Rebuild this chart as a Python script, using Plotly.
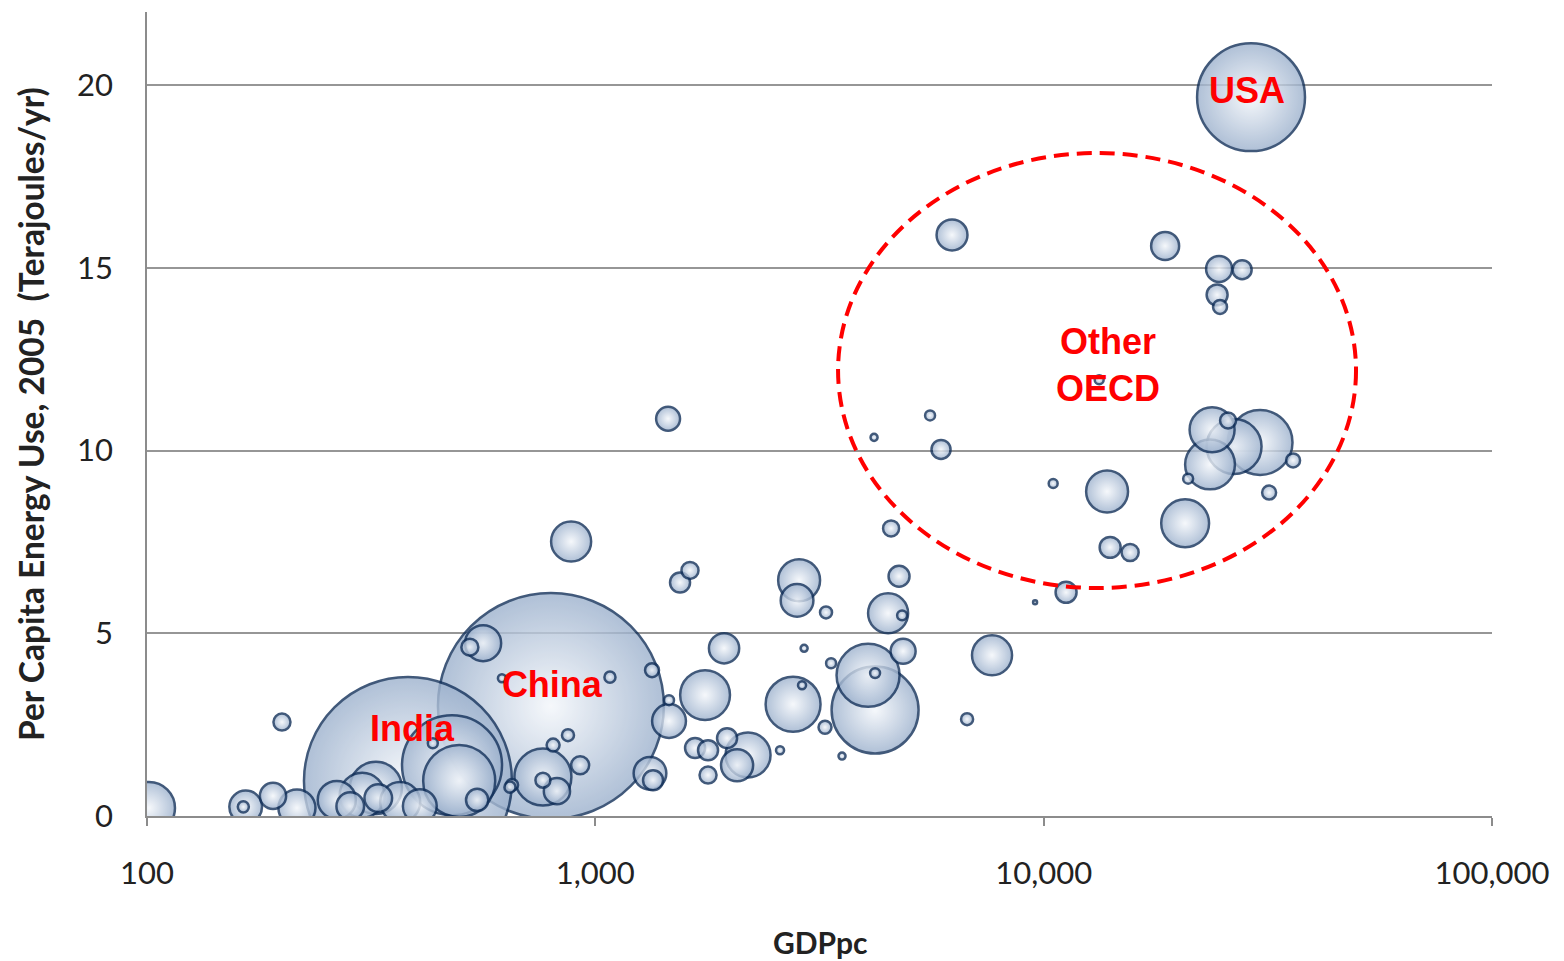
import numpy as np
import plotly.graph_objects as go

# GDP per capita (x), per-capita energy use (y), population in millions (bubble size)
gdp_pc = [101, 200, 166, 164, 191, 216, 382, 265, 302, 324, 328, 367, 406, 284, 479, 497, 434, 545, 645,
          796, 562, 525, 619, 1078, 1338, 1460, 1460, 869, 805, 925, 764, 764, 821, 652, 1324, 1345,
          1453, 883, 1626, 1545, 1937, 1757, 1669, 1784, 1967, 2191, 2071, 1784, 2582,
          2848, 2818, 3270, 2922, 2761, 2891, 3356, 3253, 3550, 4058, 4207, 4207, 4498, 4833, 4758, 4567,
          4858, 7670, 6748, 9568, 11220, 6246, 18660, 24620, 27710, 24370, 24740, 13300, 5580, 4185, 5903,
          10500, 13850, 20680, 14070, 15590, 23750, 25780, 30390, 26590, 23500, 36000, 21000, 31830, 29010]
energy_use = [0.22, 2.57, 0.25, 0.25, 0.55, 0.22, 0.96, 0.44, 0.57, 0.77, 0.49, 0.38, 0.27, 0.27, 1.39, 0.96, 1.99, 0.44, 0.79,
              3.01, 4.73, 4.62, 3.77, 3.80, 3.99, 2.60, 3.17, 2.21, 1.94, 1.39, 1.07, 0.98, 0.68, 0.85, 1.17, 0.98,
              10.87, 7.51, 6.72, 6.39, 4.59, 3.31, 1.86, 1.80, 2.13, 1.67, 1.39, 1.12, 1.80,
              6.45, 5.90, 5.57, 4.59, 3.06, 3.58, 4.18, 2.43, 1.64, 3.85, 3.91, 2.90, 5.55, 5.49, 6.56, 7.87,
              4.51, 4.40, 2.65, 5.85, 6.12, 15.90, 15.60, 14.97, 14.95, 14.26, 13.93, 11.94, 10.96, 10.36, 10.03,
              9.10, 8.88, 8.01, 7.35, 7.21, 10.57, 10.82, 10.22, 10.11, 9.62, 9.73, 9.23, 8.85, 19.67]
population = [71, 7.6, 28, 3.2, 18, 36, 1133, 38, 53, 71, 20, 42, 30, 20, 262, 136, 2.6, 13, 3.2,
              1337, 34, 7.6, 1.7, 3.2, 5.1, 30, 2.6, 3.8, 4.4, 8.5, 85, 5.9, 18, 3.8, 28, 10.5,
              15, 42, 7.6, 10.5, 24, 65, 10.5, 10.5, 10.5, 53, 27, 7.6, 1.7,
              46, 28, 3.8, 1.3, 79, 1.7, 2.6, 4.4, 1.3, 104, 2.6, 198, 42, 2.6, 11.5, 6.7,
              16.4, 42, 3.8, 0.42, 11.5, 25, 20.5, 17.7, 9.5, 11.5, 5.1, 2.1, 2.6, 1.3, 9.5,
              2.1, 46, 60, 11.5, 7.6, 53, 6.7, 110, 79, 65, 5.1, 2.6, 5.1, 305]

label_text = ["USA", "China", "India", "Other<br>OECD"]
label_gdp = [28430, 800, 390, 13920]
label_energy = [19.75, 3.50, 2.30, 12.24]

x_tickvals = [100, 1000, 10000, 100000]
x_ticktext = ["100", "1,000", "10,000", "100,000"]
y_tickvals = [0, 5, 10, 15, 20]

order = np.argsort(population)[::-1]
gx = np.array(gdp_pc)[order]
ey = np.array(energy_use)[order]
pp = np.array(population)[order]

fig = go.Figure()
fig.add_trace(go.Scatter(
    x=gx, y=ey, mode="markers",
    marker=dict(size=pp, sizemode="area", sizeref=0.0524,
                color="#9cb1cd",
                gradient=dict(type="radial", color="#f4f7fb"),
                opacity=0.8,
                line=dict(color="#12305a", width=2.5)),
    cliponaxis=True, showlegend=False, hoverinfo="skip"))

fig.add_trace(go.Scatter(
    x=label_gdp, y=label_energy, mode="text", text=label_text,
    textfont=dict(family="Liberation Sans", size=36, color="#ff0000", weight="bold"),
    textposition="middle center", cliponaxis=False, showlegend=False, hoverinfo="skip"))

fig.add_shape(type="circle", xref="paper", yref="paper",
              x0=0.5138, x1=0.8989, y0=0.2836, y1=0.8246,
              line=dict(color="#ff0000", width=4, dash="15px,8px"), layer="above")

fig.update_layout(
    width=1556, height=953,
    margin=dict(l=139, r=72, t=4, b=145),
    plot_bgcolor="white", paper_bgcolor="white",
    font=dict(family="Lato", color="#222222"),
    xaxis=dict(type="log", range=[2, 5], tickvals=x_tickvals, ticktext=x_ticktext,
               showgrid=False, showline=True, linecolor="#8c8c8c", linewidth=1.5,
               ticks="outside", ticklen=8, tickcolor="#8c8c8c", tickwidth=1.5,
               tickfont=dict(family="Lato", size=31, color="#222222"),
               ticklabelstandoff=21, zeroline=False),
    yaxis=dict(range=[0, 22], tickvals=y_tickvals, showgrid=True, gridcolor="#969696", gridwidth=1.5,
               showline=True, linecolor="#8c8c8c", linewidth=1.5, ticks="",
               tickfont=dict(family="Lato", size=31, color="#222222"),
               ticklabelstandoff=26, zeroline=False),
    annotations=[
        dict(text="GDPpc", xref="paper", yref="paper", x=0.5, y=(816 - 942) / 804,
             xanchor="center", yanchor="middle", showarrow=False,
             font=dict(family="Lato", size=30, color="#222222", weight="bold")),
        dict(text="Per Capita Energy Use, 2005  (Terajoules/yr)", xref="paper", yref="paper",
             x=(31 - 147) / 1345, y=0.5, textangle=-90, xanchor="center", yanchor="middle",
             showarrow=False, font=dict(family="Lato", size=33.5, color="#222222", weight="bold")),
    ],
)

fig.write_html("out.html")
